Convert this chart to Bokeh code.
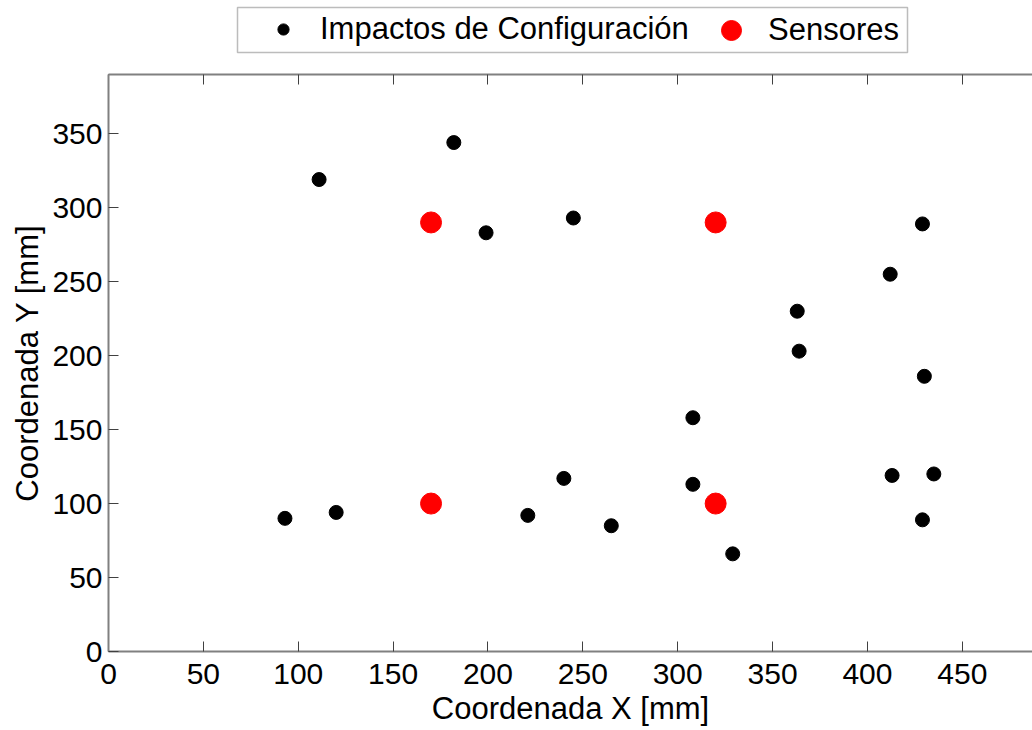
from bokeh.plotting import figure
from bokeh.layouts import column
from bokeh.models import Range1d, LinearAxis, SingleIntervalTicker, Legend, LegendItem, BoxAnnotation
from bokeh.embed import file_html
from bokeh.resources import INLINE

# Data (mm)
impact_x = [111, 182, 199, 245, 93, 120, 221, 240, 265, 308, 308, 329, 363, 364, 412, 429, 430, 413, 435, 429]
impact_y = [319, 344, 283, 293, 90, 94, 92, 117, 85, 158, 113, 66, 230, 203, 255, 289, 186, 119, 120, 89]
sensor_x = [170, 320, 170, 320]
sensor_y = [290, 290, 100, 100]

x_label = "Coordenada X [mm]"
y_label = "Coordenada Y [mm]"
impact_label = "Impactos de Configuración"
sensor_label = "Sensores"

FONT = "Liberation Sans"
FS = "30px"

# ---------- main plot ----------
p = figure(width=1032, height=670, x_range=Range1d(0, 487), y_range=Range1d(0, 390),
           output_backend="svg", toolbar_location=None,
           x_axis_location=None, y_axis_location=None,
           min_border_left=108, min_border_right=0, min_border_top=14, min_border_bottom=79)
p.title.visible = False
p.xgrid.visible = False
p.ygrid.visible = False
p.outline_line_color = None
p.background_fill_color = "white"
p.border_fill_color = "white"

p.scatter(impact_x, impact_y, size=14, color="black")
p.scatter(sensor_x, sensor_y, size=21, color="#ff0000")

bottom_axis = LinearAxis(axis_label=x_label)
left_axis = LinearAxis(axis_label=y_label)
top_axis = LinearAxis()

for ax in [bottom_axis, left_axis, top_axis]:
    ax.ticker = SingleIntervalTicker(interval=50, num_minor_ticks=0)
    ax.major_tick_in = 10
    ax.major_tick_out = 0
    ax.minor_tick_line_color = None
    ax.axis_line_color = "#808080"
    ax.axis_line_width = 2
    ax.major_tick_line_color = "#404040"
    ax.major_tick_line_width = 1
    ax.major_label_text_font = FONT
    ax.major_label_text_font_size = FS
    ax.major_label_text_color = "black"
    ax.axis_label_text_font = FONT
    ax.axis_label_text_font_size = "31px"
    ax.axis_label_text_font_style = "normal"
    ax.axis_label_text_color = "black"
    ax.major_label_standoff = 6
    ax.axis_label_standoff = 4

bottom_axis.major_label_standoff = 12
top_axis.major_label_text_color = None
top_axis.major_label_text_font_size = "1px"
top_axis.major_label_standoff = 0

p.add_layout(bottom_axis, "below")
p.add_layout(left_axis, "left")
p.add_layout(top_axis, "above")

# ---------- legend strip (its frame is aligned with the main frame: x 108..1032 px) ----------
lg = figure(width=1032, height=60, x_range=Range1d(108, 1032), y_range=Range1d(-60, 0),
            output_backend="svg", toolbar_location=None,
            x_axis_location=None, y_axis_location=None,
            min_border_left=108, min_border_right=0, min_border_top=0, min_border_bottom=0)
lg.title.visible = False
lg.xgrid.visible = False
lg.ygrid.visible = False
lg.outline_line_color = None
lg.background_fill_color = "white"
lg.border_fill_color = "white"

# legend-only renderers (same data, kept outside this strip's visible range)
d1 = lg.scatter(impact_x, impact_y, size=11, color="black")
d2 = lg.scatter(sensor_x, sensor_y, size=20, color="#ff0000")

lg.add_layout(BoxAnnotation(left=237, right=907, bottom=-52, top=-7,
                            fill_color="white", fill_alpha=1.0,
                            line_color="#222222", line_width=1.5))

leg_a = Legend(items=[LegendItem(label=impact_label, renderers=[d1])],
               location=(155, 13), orientation="horizontal",
               label_text_font=FONT, label_text_font_size="31px", label_text_color="black",
               glyph_width=40, glyph_height=28, label_standoff=17,
               padding=0, margin=0, border_line_color=None,
               background_fill_color=None)
leg_b = Legend(items=[LegendItem(label=sensor_label, renderers=[d2])],
               location=(598, 5), orientation="horizontal",
               label_text_font=FONT, label_text_font_size="31px", label_text_color="black",
               glyph_width=50, glyph_height=50, label_standoff=12,
               padding=0, margin=0, border_line_color=None,
               background_fill_color=None)
lg.add_layout(leg_a, "center")
lg.add_layout(leg_b, "center")

layout = column(lg, p, spacing=0)
open("out.html", "w").write(file_html(layout, INLINE))
